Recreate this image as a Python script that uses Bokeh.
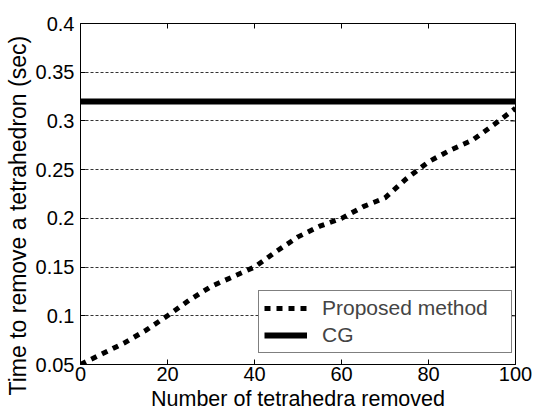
import math
from bokeh.plotting import figure
from bokeh.models import LinearAxis, FixedTicker, Legend, LegendItem, Range1d, Title
from bokeh.embed import file_html
from bokeh.resources import INLINE

# ---- data ----
x_removed = [0, 5, 10, 15, 20, 25, 30, 35, 40, 45, 50, 55, 60, 65, 70, 75, 80, 85, 90, 95, 100]
proposed_time = [0.05, 0.061, 0.072, 0.085, 0.10, 0.116, 0.13, 0.14, 0.15, 0.166, 0.181,
                 0.192, 0.20, 0.212, 0.221, 0.241, 0.258, 0.27, 0.28, 0.296, 0.313]
cg_x = [0, 100]
cg_time = [0.32, 0.32]

x_ticks = [0, 20, 40, 60, 80, 100]
x_tick_labels = ["0", "20", "40", "60", "80", "100"]
y_ticks = [0.05, 0.1, 0.15, 0.2, 0.25, 0.3, 0.35, 0.4]
y_tick_labels = ["0.05", "0.1", "0.15", "0.2", "0.25", "0.3", "0.35", "0.4"]

x_label = "Number of tetrahedra removed"
y_label = "Time to remove a tetrahedron (sec)"
legend_labels = ["Proposed method", "CG"]

FONT = "Liberation Sans"
X_MIN, X_MAX = x_ticks[0], x_ticks[-1]
Y_MIN, Y_MAX = y_ticks[0], y_ticks[-1]

p = figure(width=533, height=413, output_backend="svg", toolbar_location=None,
           x_range=Range1d(X_MIN, X_MAX), y_range=Range1d(Y_MIN, Y_MAX),
           min_border_left=79, min_border_right=18, min_border_top=23, min_border_bottom=48,
           x_axis_location=None, y_axis_location=None)
p.background_fill_color = "white"
p.border_fill_color = "white"
p.outline_line_color = "black"
p.outline_line_width = 1

def style_axis(ax, ticks, labels, standoff):
    ax.ticker = FixedTicker(ticks=ticks)
    ax.major_label_overrides = {t: l for t, l in zip(ticks, labels)}
    ax.major_tick_in = 5
    ax.major_tick_out = 0
    ax.minor_tick_line_color = None
    ax.axis_line_color = "black"
    ax.major_tick_line_color = "black"
    ax.major_label_text_font = FONT
    ax.major_label_text_color = "black"
    ax.major_label_text_font_size = "20px"
    ax.major_label_standoff = standoff

xb = LinearAxis(); style_axis(xb, x_ticks, x_tick_labels, 2)
xb.axis_label = x_label
xb.axis_label_text_font = FONT
xb.axis_label_text_font_size = "21.5px"
xb.axis_label_text_font_style = "normal"
xb.axis_label_text_color = "black"
xb.axis_label_standoff = 3
yl = LinearAxis(); style_axis(yl, y_ticks, y_tick_labels, 6)
p.add_layout(xb, "below")
p.add_layout(yl, "left")

p.add_layout(Title(text=y_label, align="left", offset=-31, standoff=4,
                   text_font=FONT, text_font_size="23px", text_font_style="normal",
                   text_color="black"), "left")

# inward ticks on the top and right edges of the box
p.scatter(x_ticks, [Y_MAX] * len(x_ticks), marker="dash", size=10, angle=math.pi / 2,
          line_color="black", line_width=1)
p.scatter([X_MAX] * len(y_ticks), y_ticks, marker="dash", size=10,
          line_color="black", line_width=1)

p.xgrid.visible = False
p.ygrid.ticker = FixedTicker(ticks=y_ticks)
p.ygrid.grid_line_color = "#333333"
p.ygrid.grid_line_width = 1
p.ygrid.grid_line_dash = "3 2"

r_prop = p.line(x_removed, proposed_time, line_color="black", line_width=5,
                line_dash="6 6", line_cap="butt")
r_cg = p.line(cg_x, cg_time, line_color="black", line_width=6)

legend = Legend(items=[LegendItem(label=legend_labels[0], renderers=[r_prop]),
                       LegendItem(label=legend_labels[1], renderers=[r_cg])],
                location=(178, 11), margin=0, padding=5, spacing=3,
                glyph_width=43, glyph_height=22, label_height=22, label_width=184,
                label_standoff=15, label_text_font=FONT, label_text_font_size="21px",
                border_line_color="black", border_line_width=1,
                background_fill_color="white", background_fill_alpha=1)
p.add_layout(legend, "center")

open("out.html", "w").write(file_html(p, INLINE))
